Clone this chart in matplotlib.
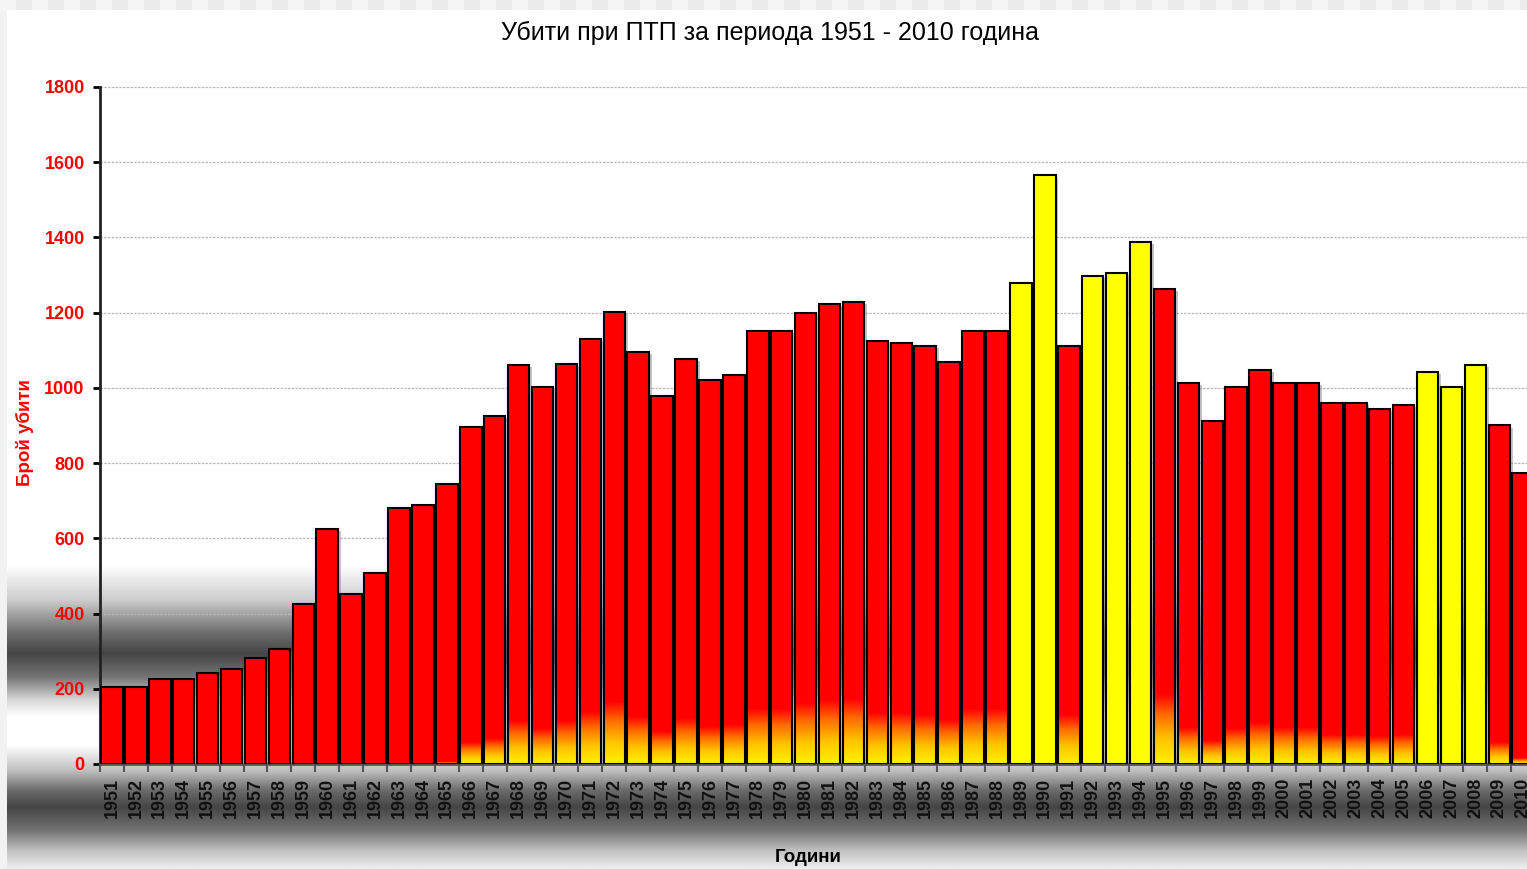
import numpy as np
import matplotlib
matplotlib.use("Agg")
import matplotlib.pyplot as plt
from matplotlib.colors import LinearSegmentedColormap
import matplotlib.patheffects as pe

# ---------------- data ----------------
years = [str(y) for y in range(1951, 2011)]
killed = [205, 205, 226, 226, 242, 253, 282, 306, 425, 625,
          452, 508, 681, 689, 744, 896, 926, 1061, 1003, 1063,
          1131, 1203, 1095, 979, 1078, 1021, 1034, 1152, 1152, 1200,
          1222, 1229, 1125, 1120, 1111, 1069, 1152, 1152, 1280, 1566,
          1111, 1297, 1305, 1388, 1263, 1012, 912, 1003, 1047, 1012,
          1012, 959, 959, 944, 955, 1043, 1003, 1060, 900, 775]
highlight_years = ['1989', '1990', '1992', '1993', '1994', '2006', '2007', '2008']
yticks = [0, 200, 400, 600, 800, 1000, 1200, 1400, 1600, 1800]

title = "Убити при ПТП за периода 1951 - 2010 година"
ylabel = "Брой убити"
xlabel = "Години"

# ---------------- style ----------------
plt.rcParams['font.family'] = ['Liberation Sans', 'DejaVu Sans']
W, H = 1527, 869
fig = plt.figure(figsize=(W / 100, H / 100), dpi=100, facecolor='#F2F2F2')

# background vertical gradient of the chart area
bg = fig.add_axes([7 / W, 0, 1 - 7 / W, (H - 10) / H], zorder=-10)
bg.axis('off')
rows = np.arange(10, H)
cp_y = [10, 565, 600, 630, 653, 676, 700, 716, 745, 770, 790, 807, 830, 850, 869]
cp_v = [1.0, 1.0, 0.80, 0.45, 0.27, 0.45, 0.85, 1.0, 1.0, 0.75, 0.42, 0.27, 0.45, 0.75, 0.94]
grad = np.interp(rows, cp_y, cp_v)[:, None]
bg.imshow(np.repeat(grad, 2, axis=1), cmap='gray', vmin=0, vmax=1,
          aspect='auto', extent=[0, 1, 0, 1], interpolation='bilinear')
bg.set_xlim(0, 1); bg.set_ylim(0, 1)

# top checker strip
top = fig.add_axes([0, 1 - 10 / H, 1, 10 / H], zorder=-9)
top.axis('off')
n_sq = int(np.ceil(W / 16))
pattern = np.array([[0.92 if k % 2 else 0.96 for k in range(n_sq)]])
top.imshow(pattern, cmap='gray', vmin=0, vmax=1, aspect='auto',
           extent=[0, n_sq * 16 / W, 0, 1], interpolation='nearest')
top.set_xlim(0, 1); top.set_ylim(0, 1)

# main axes
step = 23.92
left_px, bottom_px, top_px = 100, 764, 87
ax = fig.add_axes([left_px / W, (H - bottom_px) / H,
                   len(years) * step / W, (bottom_px - top_px) / H])
ax.patch.set_alpha(0)

x = np.arange(len(years))
bw = 0.9
is_yellow = [y in highlight_years for y in years]
face = ['#FFFF00' if f else '#FF0000' for f in is_yellow]

shadow = [pe.SimplePatchShadow(offset=(2, -1.5), shadow_rgbFace='#808080', alpha=0.45), pe.Normal()]
faces = ax.bar(x, killed, width=bw, color=face, edgecolor='none', zorder=2)
for p in faces:
    p.set_path_effects(shadow)

cmap = LinearSegmentedColormap.from_list(
    'fire', [(0, '#FFF200'), (0.35, '#FFC400'), (0.7, '#FF6A00'), (1, '#FF0000')])
ramp = np.linspace(0, 1, 64)[:, None]
for xi, v, yel in zip(x, killed, is_yellow):
    if yel:
        continue
    h = 0.353 * (v - 735)
    if h > 0:
        ax.imshow(ramp, cmap=cmap, origin='lower', aspect='auto',
                  extent=[xi - bw / 2, xi + bw / 2, 0, h], zorder=2.5,
                  interpolation='bilinear')

ax.bar(x, killed, width=bw, facecolor='none', edgecolor='black', linewidth=1.5, zorder=3)

ax.set_xlim(-0.5, len(years) - 0.5)
ax.set_ylim(0, 1800)
ax.set_yticks(yticks)
ax.set_yticklabels([str(t) for t in yticks], color='#FF0000', fontweight='bold', fontsize=13)
ax.tick_params(axis='y', direction='out', length=5, width=2, color='black', pad=6)
ax.yaxis.grid(True, color='#B8B8B8', linestyle=(0, (2, 1)), linewidth=0.9)
ax.set_axisbelow(True)

ax.set_xticks(x)
ax.set_xticklabels(years, rotation=90, fontweight='bold', fontsize=13, color='#111111')
ax.tick_params(axis='x', which='major', length=0, pad=10)
ax.set_xticks(np.arange(-0.5, len(years), 1), minor=True)
ax.tick_params(axis='x', which='minor', direction='out', length=6, width=1.5, color='#555555')

for s in ['top', 'right']:
    ax.spines[s].set_visible(False)
ax.spines['left'].set_linewidth(2)
ax.spines['left'].set_color('#222222')
ax.spines['bottom'].set_linewidth(2)
ax.spines['bottom'].set_color('#555555')

fig.text(770 / W, 1 - 33 / H, title, ha='center', va='center', fontsize=18, color='black')
fig.text(25 / W, 1 - 433 / H, ylabel, ha='center', va='center', rotation=90,
         fontsize=13.5, fontweight='bold', color='#FF0000')
fig.text(808 / W, 1 - 857 / H, xlabel, ha='center', va='center',
         fontsize=13.5, fontweight='bold', color='black')

fig.savefig('out.png', dpi=100, facecolor=fig.get_facecolor())
